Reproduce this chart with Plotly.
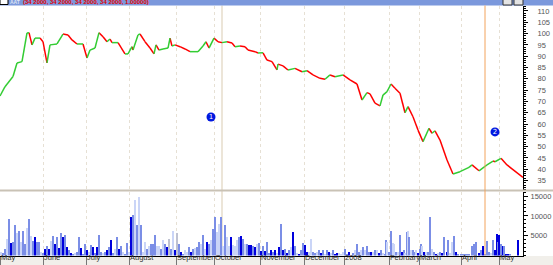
import plotly.graph_objects as go

# ---------------- data ----------------
month_pos = [-0.5, 21, 42.5, 64, 87.5, 106.5, 129.5, 151.5, 171.5, 194, 209, 230, 249]
month_labels = ["May", "June", "July", "August", "September", "October", "November",
                "December", "2008", "February", "March", "April", "May"]

price_day = [-0.5, 2, 6, 8, 10.5, 13, 14, 15.5, 17, 19.5, 21, 23, 24.5, 28, 31, 33.5, 35.5, 38,
             41, 43, 44.5, 47, 49, 51, 53, 54.5, 55.5, 58.5, 62, 63.5, 65.5, 66, 68.5, 69.5, 72,
             74.5, 76.5, 77.5, 79, 81, 83.5, 84.5, 85.5, 87, 89.5, 92, 94.5, 98.5, 101, 102.5,
             104, 106.5, 108.5, 110.5, 113, 115.5, 117, 119.5, 122, 123.5, 127, 128.5, 131, 133,
             135.5, 138, 138.5, 141, 143.5, 147, 150.5, 153, 156, 159.5, 162, 164.5, 167, 171,
             174.5, 178, 180.5, 183, 184.5, 187, 189.5, 191, 193, 195, 197, 199.5, 202, 203.5,
             206, 208.5, 211, 214, 215.5, 217, 219.5, 223, 226, 229.5, 234, 235.5, 239, 243,
             246, 247, 250, 253, 261]
price_val = [72.4, 76.5, 81, 87, 87.6, 100.3, 100.4, 95, 98, 98, 96.4, 87, 95, 95.4, 99.8, 99.4,
             97.2, 95.4, 95.4, 89.2, 92.7, 93.6, 100.4, 98.6, 96.4, 97.6, 96, 96, 91, 91, 94.2,
             92.7, 99.4, 99.8, 96.4, 93.6, 91, 95, 92.7, 93.2, 93.6, 98, 94.5, 95, 94.2, 93.2, 92,
             92, 94.5, 96.4, 93.6, 98, 96.4, 96, 96.4, 95.8, 94.2, 94.5, 94.2, 92.7, 92, 91.4,
             91.5, 88.3, 87.6, 83.9, 86.5, 85.7, 83.9, 84.6, 83.1, 83.6, 81.7, 80.2, 79.8, 81.7,
             80.9, 81.7, 79.5, 77.7, 70.6, 73.9, 73.3, 69.2, 68, 72.8, 74.3, 77.7, 75.8, 73.6, 65,
             67.7, 63.2, 57.3, 52.2, 58.1, 55.9, 57, 52.9, 44.1, 37.9, 38.9, 40.8, 41.9, 39.3,
             41.9, 43.6, 43.3, 44.8, 41.9, 36.4]

vol_day_a = list(range(0, 87))
vol_val_a = [1000, 600, 1700, 4200, 9300, 3200, 3400, 7700, 5700, 6100,
             3400, 6100, 2900, 6900, 9300, 4900, 3600, 4600, 3400, 3400,
             1000, 600, 1700, 2400, 1700, 3600, 4900, 2900, 4600, 1900,
             5700, 4600, 5200, 2100, 1300, 600, 400, 600, 800, 4600,
             1900, 400, 2900, 1300, 800, 2700, 2100, 600, 2100, 5200,
             1000, 600, 1000, 1500, 2100, 4000, 600, 1700, 4600, 1700,
             2500, 800, 400, 3200, 800, 9700, 10300, 13900, 7600, 14700,
             7600, 800, 3400, 1700, 2500, 2900, 2900, 5200, 2500, 2500,
             1700, 3800, 2900, 2100, 4200, 1700, 6300]
vol_shade_a = list("lmmlmdmmlm" "lmmlmlmdmm" "lmdmdlmdmd" "mdmdmdmlmm"
                   "dmmdlmdmdm" "mlmdmdmlmd" "mlmmldmlml" "mllmlmmmll" "mlmdgml")

vol_day_b = list(range(87, 175))
vol_val_b = [1500, 5700, 2900, 1000, 400, 1300, 1000, 2100, 800, 1700,
             1900, 2100, 3400, 2900, 5200, 1700, 3400, 2900, 3800, 6700,
             9700, 5900, 8000, 9700, 2500, 7700, 4600, 2500, 4600, 2700,
             2500, 3800, 4600, 4900, 4200, 2900, 2900, 2700, 2700, 2500,
             2100, 2900, 3100, 1200, 2400, 1200, 3400, 600, 1500, 800,
             1400, 700, 2100, 8000, 1300, 1700, 700, 1300, 2100, 5900,
             2500, 600, 400, 1300, 3200, 2700, 1000, 1000, 4200, 1000,
             600, 800, 1300, 600, 1300, 400, 1300, 1000, 700, 1300,
             400, 600, 700, 400, 800, 1700, 400, 800]
vol_shade_b = list("dgmdmllmdm" "lmmlmldmlm" "mllmlmlldl" "llmdmlmddm"
                   "dlmdmdmmdm" "dldmdmdmld" "mldmmddllm" "mlmdmlmdlm" "ddlllmmd")

vol_day_c = [176, 177, 178, 179, 180, 181, 182, 183, 184, 185, 186, 187, 188, 189, 190, 191,
             192, 192.5, 193, 194, 195, 196, 196.7, 197.7, 198.5, 199.5, 200.3, 201.3, 202.2,
             203.2, 203.7, 204.2, 205, 205.8, 206.7, 207.7, 208.3, 209.3, 210.2, 210.7, 211.7,
             212.7, 213.5, 214.7, 215.5, 216.5, 217.5, 218.3, 219.3, 220.3, 221.7, 222.8, 223.7,
             224.5, 225.5, 226.5, 227.5, 228.7, 230, 231, 232, 233, 234.2, 235.5, 236.7, 237.5,
             239.2, 240, 241, 242, 243, 244, 245, 245.8, 246.8, 247.8, 248.4, 249, 249.8, 250.8,
             251.7, 252.7, 253.5, 254.7, 258.7]
vol_val_c = [600, 1500, 2900, 800, 1400, 2100, 1500, 2400, 800, 1000, 1000, 1300, 1400, 700,
             1300, 700, 400, 3800, 3500, 800, 6100, 3200, 2900, 800, 1000, 5200, 1000, 1300, 700,
             5900, 6100, 4600, 1300, 1300, 800, 1500, 700, 1700, 2800, 2500, 1000, 800, 800,
             9700, 1700, 800, 400, 600, 1000, 700, 4600, 1000, 4000, 700, 3400, 4800, 1000, 400,
             250, 250, 250, 250, 250, 2500, 2900, 3400, 600, 1500, 2400, 250, 3600, 1000, 700,
             3800, 1300, 5500, 3400, 5200, 2900, 2500, 2500, 400, 400, 250, 4000]
vol_shade_c = list("mlmmlmlmmdlmldml" "mmlmmllmlmdmlmlmlmmldmml" "dlmmlmdlmdmdmllmdm"
                   "mmmmmmmmdmdmmmlmddmdmdmddmd")

vol_ticks = [5000, 10000, 15000]
vol_ticktext = ["5000", "10000", "15000"]

ann_day = [105, 247]
ann_price = [63.1, 56.5]
ann_label = ["1", "2"]

title_text = "(34 2000, 34 2000, 34 2000, 34 2000, 1.00000)"

# ---------------- figure ----------------
vol_day = vol_day_a + vol_day_b + vol_day_c
vol_val = vol_val_a + vol_val_b + vol_val_c
vol_shade = vol_shade_a + vol_shade_b + vol_shade_c
assert len(vol_day) == len(vol_val) == len(vol_shade)
assert len(price_day) == len(price_val)

shade_colors = {"d": "#0000dd", "m": "#7b8ee6", "l": "#cad5f7", "g": "#bfc2d2"}

fig = go.Figure()

up_x, up_y, dn_x, dn_y = [], [], [], []
for i in range(len(price_day) - 1):
    xs = [price_day[i], price_day[i + 1], None]
    ys = [price_val[i], price_val[i + 1], None]
    if price_val[i + 1] >= price_val[i]:
        up_x += xs; up_y += ys
    else:
        dn_x += xs; dn_y += ys

fig.add_trace(go.Scatter(x=dn_x, y=dn_y, mode="lines", line=dict(color="#ff0000", width=1.5),
                         xaxis="x", yaxis="y", hoverinfo="skip"))
fig.add_trace(go.Scatter(x=up_x, y=up_y, mode="lines", line=dict(color="#33cc33", width=1.5),
                         xaxis="x", yaxis="y", hoverinfo="skip"))

fig.add_trace(go.Scatter(x=ann_day, y=ann_price, mode="markers+text", text=ann_label,
                         textposition="middle center",
                         textfont=dict(color="white", size=7, family="DejaVu Sans"),
                         marker=dict(size=9, color="#0018e0", line=dict(width=0)),
                         xaxis="x", yaxis="y", hoverinfo="skip"))

fig.add_trace(go.Bar(x=vol_day, y=vol_val, width=0.55,
                     marker=dict(color=[shade_colors[s] for s in vol_shade], line=dict(width=0)),
                     xaxis="x2", yaxis="y2", hoverinfo="skip"))

H = 265.0
def py(px):
    return 1 - px / H

tickfont = dict(family="Liberation Sans", size=7.5, color="#555555")
xtickfont = dict(family="Liberation Sans", size=7.5, color="#333333")
xdom = [0, 523 / 553]
grid_col = "#e6e0d4"

fig.update_layout(
    width=553, height=265, margin=dict(l=0, r=0, t=0, b=0, autoexpand=False),
    paper_bgcolor="white", plot_bgcolor="white", showlegend=False, hovermode=False,
    bargap=0,
    xaxis=dict(domain=xdom, range=[-0.5, 261], anchor="y", tickvals=month_pos,
               showticklabels=False, ticks="", showgrid=True, gridcolor=grid_col,
               griddash="dot", gridwidth=1, zeroline=False, showline=False, automargin=False),
    xaxis2=dict(domain=xdom, range=[-0.5, 261], anchor="y2", matches="x",
                tickvals=month_pos, ticktext=month_labels, ticklabelposition="outside right",
                tickangle=0, ticks="outside", ticklen=8, tickcolor="#777777", tickwidth=1,
                ticklabelstandoff=-6,
                tickfont=xtickfont, showgrid=True, gridcolor=grid_col, griddash="dot",
                zeroline=False, showline=True, linecolor="black", linewidth=1,
                automargin=False),
    yaxis=dict(domain=[py(190), py(6)], range=[30.8, 112.2], anchor="x", side="right",
               tick0=35, dtick=5, ticks="outside", ticklen=4, tickcolor="black",
               minor=dict(dtick=1, ticklen=2, tickcolor="black", ticks="outside"),
               showline=True, linecolor="black", showgrid=False, zeroline=False,
               tickfont=tickfont, ticklabelstandoff=8, automargin=False),
    yaxis2=dict(domain=[py(255.5), py(192)], range=[0, 16035], anchor="x2", side="right",
                tickvals=vol_ticks, ticktext=vol_ticktext, ticks="outside", ticklen=4,
                tickcolor="black",
                minor=dict(dtick=1000, ticklen=2, tickcolor="black", ticks="outside"),
                showline=True, linecolor="black", showgrid=False, zeroline=False,
                tickfont=tickfont, ticklabelstandoff=1, automargin=False),
)

shapes = [
    # bottom label strip
    dict(type="rect", xref="paper", yref="paper", x0=0, x1=1, y0=0, y1=py(256),
         fillcolor="#f1efea", line=dict(width=0), layer="below"),
    # title bar
    dict(type="rect", xref="paper", yref="paper", x0=0, x1=1, y0=py(5.5), y1=1,
         fillcolor="#7b98dc", line=dict(width=0), layer="above"),
    dict(type="rect", xref="paper", yref="paper", x0=0, x1=8 / 553, y0=py(4.5), y1=1.01,
         fillcolor="white", line=dict(width=1, color="black"), layer="above"),
    dict(type="rect", xref="paper", yref="paper", x0=503 / 553, x1=512 / 553, y0=py(5), y1=1.01,
         fillcolor="#e4e4e4", line=dict(width=1, color="#333333"), layer="above"),
    dict(type="rect", xref="paper", yref="paper", x0=514 / 553, x1=523 / 553, y0=py(5), y1=1.01,
         fillcolor="#e4e4e4", line=dict(width=1, color="#333333"), layer="above"),
    # pane separator
    dict(type="line", xref="paper", yref="paper", x0=0, x1=1, y0=py(190.5), y1=py(190.5),
         line=dict(color="#c9c2b5", width=2), layer="above"),
    # vertical marker lines
    dict(type="line", xref="x", yref="paper", x0=110.5, x1=110.5, y0=py(255.5), y1=py(5.5),
         line=dict(color="#ece5d8", width=2), layer="below"),
    dict(type="line", xref="x", yref="paper", x0=242, x1=242, y0=py(255.5), y1=py(5.5),
         line=dict(color="#f2a35c", width=1), layer="above"),
]
fig.update_layout(shapes=shapes)

fig.add_annotation(xref="paper", yref="paper", x=22 / 553, y=py(6), xanchor="left",
                   yanchor="bottom", text="<b>" + title_text + "</b>", showarrow=False,
                   borderpad=0, font=dict(family="Liberation Sans", size=6, color="#e00000"))
fig.add_annotation(xref="paper", yref="paper", x=9 / 553, y=py(6), xanchor="left",
                   yanchor="bottom", text="<b>AAT</b>", showarrow=False,
                   borderpad=0, font=dict(family="Liberation Sans", size=5, color="#dde4f4"))

fig.write_html("out.html")
